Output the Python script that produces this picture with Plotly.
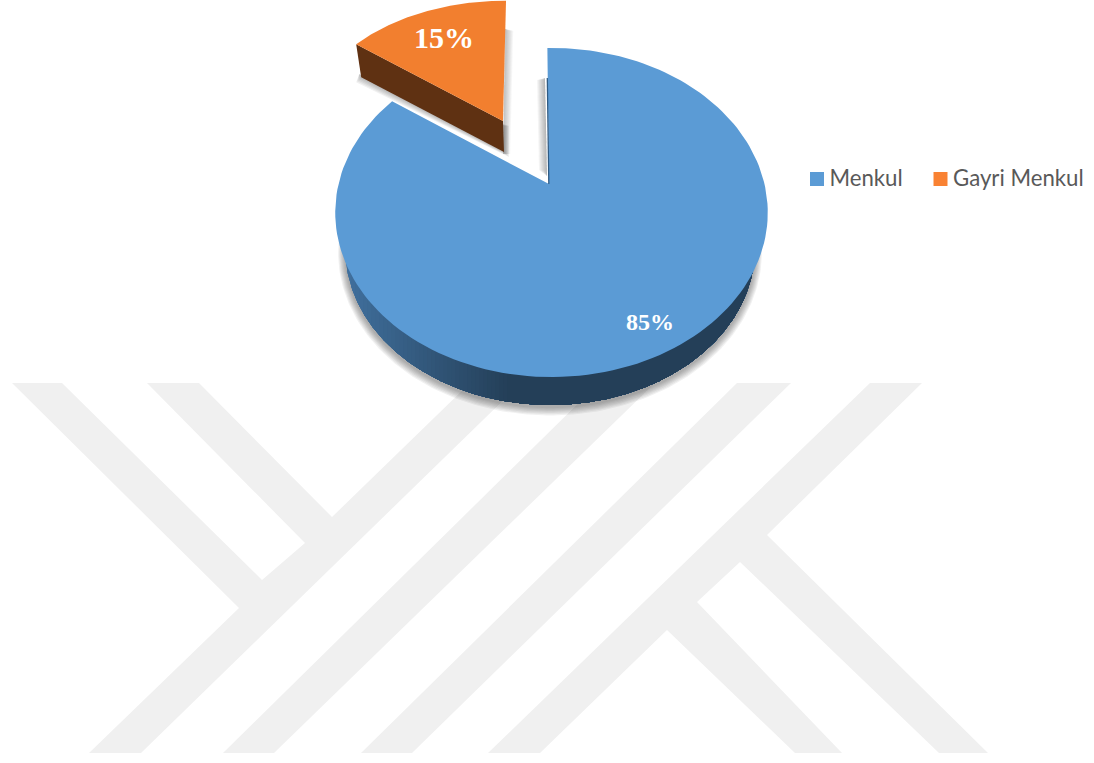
import numpy as np
import plotly.graph_objects as go

categories = ["Menkul", "Gayri Menkul"]
shares = [85, 15]
top_colors = ["#5B9BD5", "#F27F2F"]
legend_colors = ["#5B9BD5", "#F98233"]
wall_dark = "#243F58"
wall_light = "#41719F"
wall_brown = "#5F3112"
K = 0.1733  # perspective strength


def arc(theta0, sweep, cx, cy, a, b, n=160):
    th = np.radians(np.linspace(theta0, theta0 + sweep, n))
    den = 1 + K * np.cos(th)
    return cx + a * np.sin(th) / den, cy - b * np.cos(th) / den


fig = go.Figure()


def poly(xs, ys, color):
    fig.add_trace(go.Scatter(x=list(xs), y=list(ys), mode="lines", fill="toself", fillcolor=color,
                             line=dict(color=color, width=0), hoverinfo="skip", showlegend=False))


def mix(c1, c2, t):
    a = [int(c1[i:i + 2], 16) for i in (1, 3, 5)]
    b = [int(c2[i:i + 2], 16) for i in (1, 3, 5)]
    return "rgb(%d,%d,%d)" % tuple(round(p + (q - p) * t) for p, q in zip(a, b))


sweep_main = shares[0] / sum(shares) * 360
sweep_small = shares[1] / sum(shares) * 360
main_start = -1.3
small_start = -53.0

MAIN = dict(cx=551.5, cy=184, a=213, b=159.6)
BASE = dict(cx=550, cy=222, a=201.7, b=151.3)
SMALL = dict(cx=503, cy=121, a=203, b=141)

# soft shadow below the big slice
for i in range(7, 0, -1):
    xs, ys = arc(90, 180, BASE["cx"], BASE["cy"] + 2.0, BASE["a"] + i * 1.0, BASE["b"] + i * 1.0)
    poly(xs, ys, "rgba(60,60,60,0.07)")

# small slice: shadows
sx, sy = arc(small_start, sweep_small, **SMALL)
apex = (SMALL["cx"], SMALL["cy"])
corner = (sx[0], sy[0])
end = (sx[-1], sy[-1])
wall_x = [corner[0], apex[0], apex[0] + 1, corner[0] + 5]
wall_y = [corner[1], apex[1], apex[1] + 31, corner[1] + 33]
for i in range(5, 0, -1):
    poly([corner[0] + 3, apex[0] + 1 + i, apex[0] + 1 + i, corner[0] + 5 - i],
         [corner[1] + 30, apex[1] + 5, apex[1] + 31 + i, corner[1] + 33 + i], "rgba(60,60,60,0.08)")
for i in range(8, 0, -1):
    poly([end[0] - 1, end[0] + i * 0.9, apex[0] + i * 0.9, apex[0]],
         [end[1] + 28, end[1] + 30, apex[1] + 33, apex[1] + 33], "rgba(60,60,60,0.045)")

# big slice: shadow on the cut edge
mx, my = arc(main_start, sweep_main, **MAIN)
main_apex = (549, 184)
for i in range(8, 0, -1):
    poly([main_apex[0] - 2, main_apex[0] - 2 - i, main_apex[0] - 4 - i, main_apex[0] - 4],
         [main_apex[1] - 8, main_apex[1] - 14, main_apex[1] - 104, main_apex[1] - 106], "rgba(60,60,60,0.05)")

# big slice: side wall, shaded left to right; each band overpaints the rest so no seams show
bx, by = arc(90, 180, n=1500, **BASE)
poly(bx, by, wall_light)
segs = 42
for j in range(segs):
    x0 = 343 + j * 4.0
    mask = bx >= x0
    t = (j + 1) / segs
    poly(list(bx[mask]) + [x0], list(by[mask]) + [240], mix(wall_light, wall_dark, t))

# big slice: top face
poly(list(mx) + [main_apex[0]], list(my) + [main_apex[1]], top_colors[0])
# thin dark edge on the cut
fig.add_trace(go.Scatter(x=[547.3, 548.8], y=[78, 184], mode="lines",
                         line=dict(color="#2F5B84", width=1.3), hoverinfo="skip", showlegend=False))

# small slice: wall then top
poly(wall_x, wall_y, wall_brown)
poly(list(sx) + [apex[0]], list(sy) + [apex[1]], top_colors[1])

# labels
fig.add_trace(go.Scatter(x=[650], y=[323.5], mode="text", text=[f"{shares[0]}%"],
                         textfont=dict(family="Liberation Serif", size=24, color="white"),
                         hoverinfo="skip", showlegend=False, texttemplate="<b>%{text}</b>"))
fig.add_trace(go.Scatter(x=[444], y=[40.5], mode="text", text=[f"{shares[1]}%"],
                         textfont=dict(family="Liberation Serif", size=30, color="white"),
                         hoverinfo="skip", showlegend=False, texttemplate="<b>%{text}</b>"))

# legend keys with their names
for name, col, lx in zip(categories, legend_colors, (817, 940.5)):
    fig.add_trace(go.Scatter(x=[lx], y=[179], mode="markers", name=name,
                             marker=dict(symbol="square", size=14, color=col),
                             hoverinfo="skip", showlegend=False))
    fig.add_trace(go.Scatter(x=[lx + 12.5], y=[180], mode="text", text=[name],
                             textposition="middle right",
                             textfont=dict(family="Lato", size=22.2, color="#595959"),
                             hoverinfo="skip", showlegend=False))

# faint watermark
watermark = [
    [(12, 383), (62, 383), (262, 580), (305, 543), (147, 383), (199, 383), (332, 517), (470, 383), (521, 383),
     (141, 753), (89, 753), (239, 608)],
    [(223, 753), (274, 753), (655, 383), (599, 383)],
    [(361, 753), (412, 753), (791, 383), (737, 383)],
    [(488, 753), (540, 753), (667, 630), (795, 753), (842, 753), (697, 602), (740, 562), (939, 753), (988, 753),
     (767, 535), (922, 383), (870, 383)],
]
shapes = []
for pts in watermark:
    path = "M " + " L ".join(f"{x},{y}" for x, y in pts) + " Z"
    shapes.append(dict(type="path", path=path, fillcolor="#F0F0F0", line=dict(width=0), layer="below"))

fig.update_layout(
    width=1094, height=763, margin=dict(l=0, r=0, t=0, b=0),
    paper_bgcolor="white", plot_bgcolor="white",
    xaxis=dict(range=[0, 1094], visible=False, fixedrange=True),
    yaxis=dict(range=[763, 0], visible=False, fixedrange=True),
    shapes=shapes,
    showlegend=False,
)
fig.write_html("out.html", post_script="document.body.style.margin='0';document.body.style.overflow='hidden';",
               config=dict(displayModeBar=False))
